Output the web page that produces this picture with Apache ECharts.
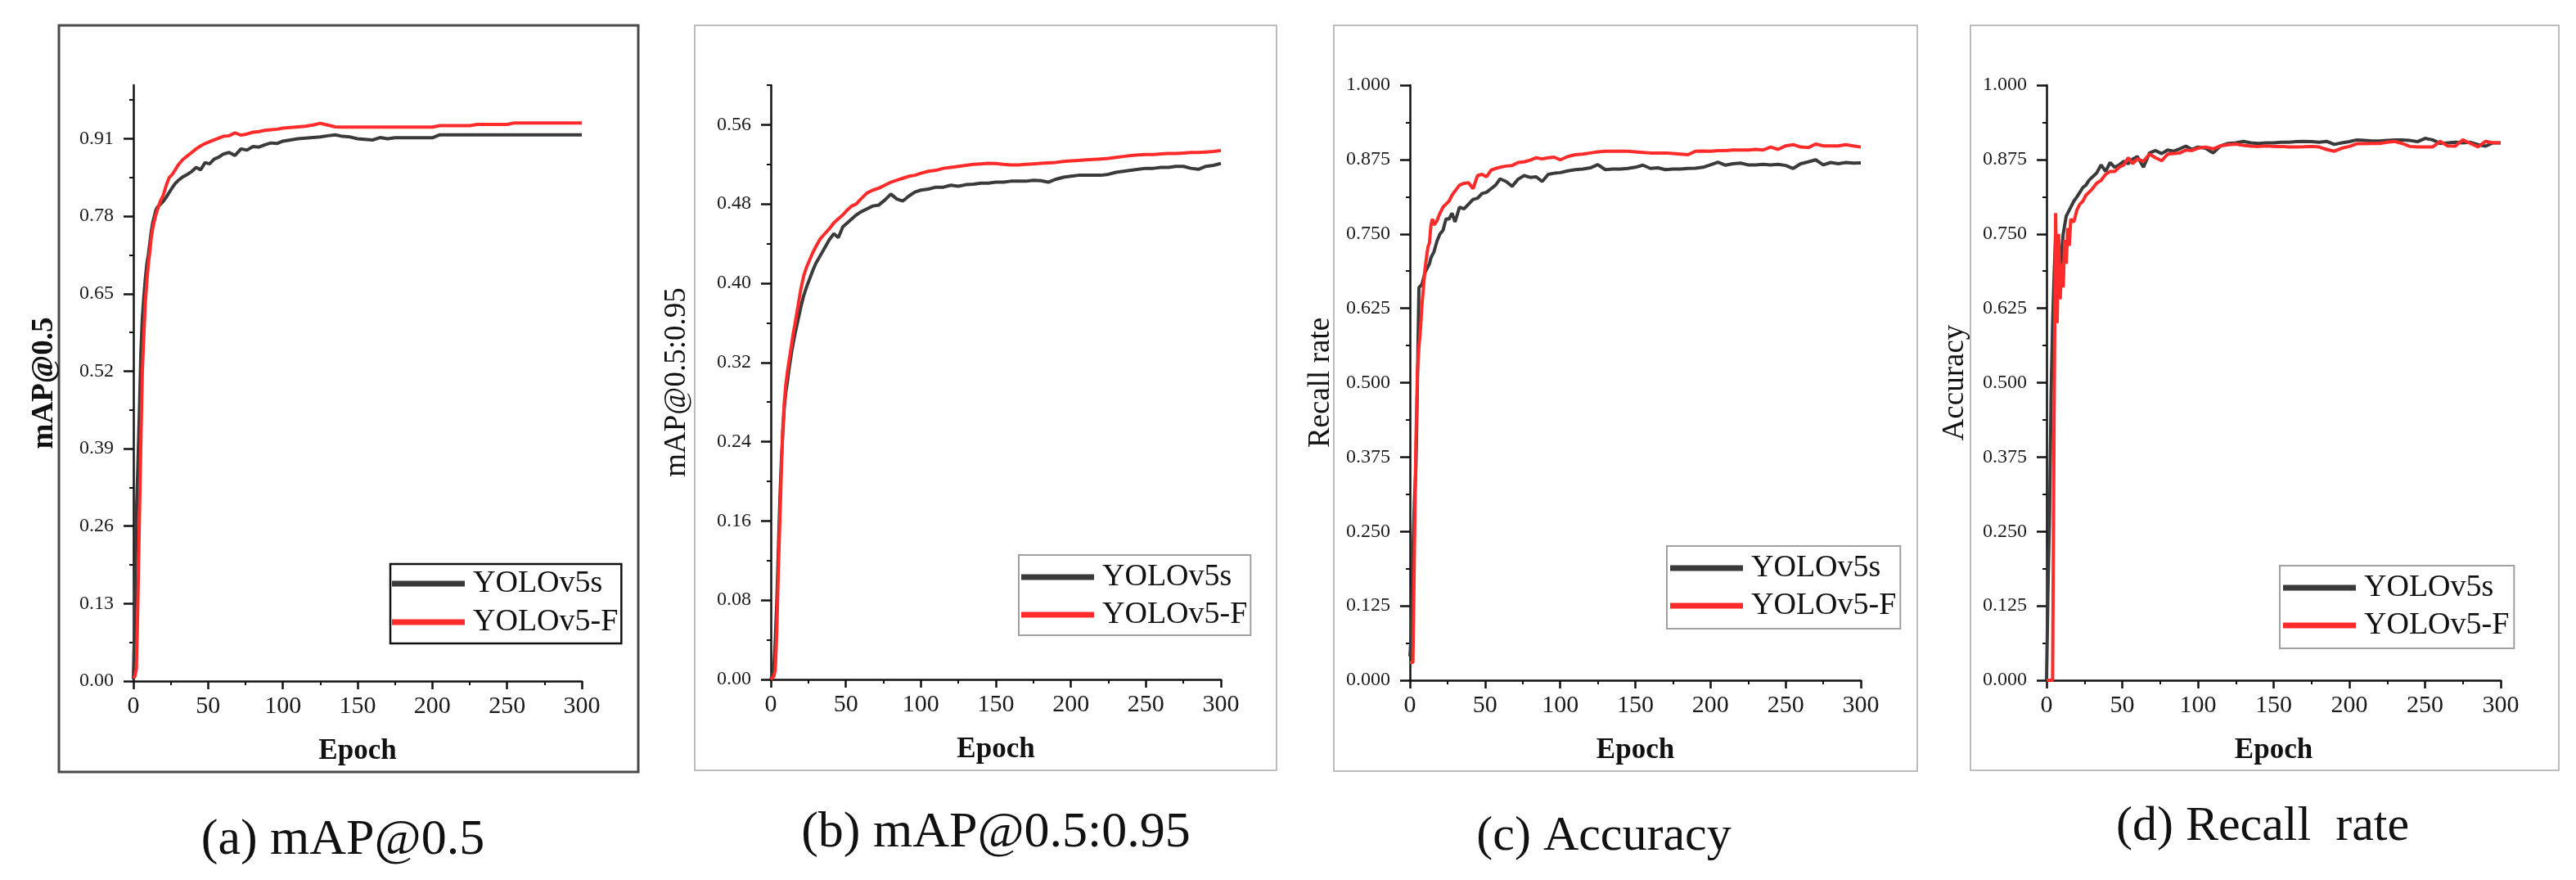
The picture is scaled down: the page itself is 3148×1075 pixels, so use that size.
<!DOCTYPE html>
<html>
<head>
<meta charset="utf-8">
<script src="https://cdn.jsdelivr.net/npm/echarts@6/dist/echarts.min.js"></script>
<style>
html,body{margin:0;padding:0;background:#fff;}
#chart{width:3148px;height:1075px;}
</style>
</head>
<body>
<div id="chart"></div>
<script>
// ---------------- data ----------------
const epochs = [0,1,2,3,4,5,6,7,8,9,10,11,12,13,14,15,16,18,20,22,24,26,28,30,33,36,39,42,45,48,51,54,57,60,64,68,72,76,80,84,88,92,96,100,105,110,115,120,125,130,135,140,145,150,155,160,165,170,175,180,185,190,195,200,205,210,215,220,225,230,235,240,245,250,255,260,265,270,275,280,285,290,295,300];

const seriesNames = ['YOLOv5s', 'YOLOv5-F'];

// (a) mAP@0.5
const mapA_v5s = [0.003,0.12,0.28,0.36,0.45,0.55,0.61,0.645,0.675,0.70,0.715,0.735,0.755,0.77,0.78,0.79,0.795,0.80,0.805,0.812,0.82,0.828,0.835,0.84,0.846,0.85,0.855,0.862,0.858,0.87,0.868,0.876,0.879,0.884,0.887,0.882,0.893,0.891,0.897,0.896,0.900,0.903,0.902,0.906,0.908,0.910,0.911,0.912,0.913,0.915,0.9166,0.914,0.913,0.910,0.909,0.908,0.912,0.910,0.9116,0.9116,0.9116,0.9116,0.9116,0.9116,0.9166,0.9166,0.9166,0.9166,0.9166,0.9166,0.9166,0.9166,0.9166,0.9166,0.9166,0.9166,0.9166,0.9166,0.9166,0.9166,0.9166,0.9166,0.9166,0.9166];
const mapA_v5F = [0.005,0.008,0.02,0.13,0.27,0.40,0.52,0.58,0.635,0.67,0.70,0.72,0.745,0.76,0.772,0.782,0.79,0.805,0.815,0.832,0.845,0.85,0.858,0.866,0.875,0.881,0.887,0.893,0.898,0.902,0.905,0.908,0.911,0.914,0.915,0.92,0.916,0.918,0.921,0.922,0.924,0.925,0.926,0.928,0.929,0.930,0.931,0.933,0.936,0.933,0.930,0.9296,0.9296,0.9296,0.9296,0.9296,0.9296,0.9296,0.9296,0.9296,0.9296,0.9296,0.9296,0.9296,0.932,0.932,0.932,0.932,0.932,0.934,0.934,0.934,0.934,0.934,0.9366,0.9366,0.9366,0.9366,0.9366,0.9366,0.9366,0.9366,0.9366,0.9366];

// (b) mAP@0.5:0.95
const mapB_v5s = [0.0,0.0,0.01,0.04,0.08,0.13,0.18,0.22,0.25,0.275,0.29,0.30,0.312,0.322,0.332,0.34,0.348,0.362,0.376,0.388,0.397,0.405,0.413,0.42,0.428,0.436,0.444,0.450,0.446,0.457,0.461,0.465,0.469,0.472,0.475,0.478,0.479,0.484,0.490,0.485,0.483,0.488,0.492,0.494,0.495,0.497,0.497,0.499,0.498,0.4995,0.500,0.501,0.501,0.502,0.502,0.503,0.503,0.503,0.504,0.5035,0.502,0.505,0.507,0.508,0.509,0.509,0.509,0.509,0.510,0.512,0.513,0.514,0.515,0.516,0.516,0.517,0.517,0.518,0.518,0.516,0.515,0.518,0.519,0.521];
const mapB_v5F = [0.0,0.0,0.003,0.01,0.05,0.11,0.16,0.21,0.255,0.28,0.298,0.31,0.32,0.33,0.34,0.35,0.358,0.376,0.394,0.408,0.417,0.424,0.431,0.437,0.445,0.450,0.455,0.461,0.465,0.469,0.474,0.478,0.480,0.485,0.491,0.494,0.496,0.499,0.502,0.504,0.506,0.508,0.509,0.511,0.513,0.514,0.516,0.517,0.518,0.519,0.52,0.5205,0.521,0.5208,0.520,0.5195,0.5195,0.520,0.5205,0.521,0.5215,0.522,0.523,0.5235,0.524,0.5245,0.525,0.5255,0.526,0.527,0.528,0.529,0.5295,0.530,0.530,0.5305,0.531,0.531,0.5315,0.532,0.532,0.5325,0.533,0.534];

// (c) Accuracy (axis: Recall rate)
const accC_v5s = [0.04,0.08,0.22,0.30,0.36,0.50,0.66,0.662,0.665,0.675,0.685,0.69,0.695,0.70,0.71,0.715,0.72,0.738,0.75,0.756,0.775,0.775,0.785,0.77,0.795,0.792,0.80,0.808,0.81,0.818,0.82,0.826,0.832,0.8425,0.838,0.83,0.842,0.848,0.845,0.846,0.838,0.85,0.852,0.853,0.856,0.858,0.859,0.861,0.8665,0.858,0.859,0.859,0.860,0.862,0.8655,0.860,0.861,0.858,0.859,0.859,0.860,0.8604,0.862,0.866,0.8705,0.8655,0.868,0.869,0.866,0.866,0.867,0.866,0.867,0.865,0.860,0.868,0.871,0.8745,0.866,0.870,0.868,0.870,0.869,0.8694];
const accC_v5F = [0.03,0.03,0.03,0.22,0.40,0.52,0.56,0.59,0.63,0.66,0.69,0.71,0.728,0.735,0.765,0.775,0.765,0.772,0.785,0.795,0.80,0.805,0.815,0.822,0.832,0.835,0.836,0.826,0.848,0.850,0.846,0.857,0.860,0.862,0.864,0.865,0.870,0.871,0.874,0.878,0.876,0.878,0.879,0.8745,0.880,0.883,0.884,0.886,0.888,0.889,0.889,0.889,0.889,0.888,0.887,0.886,0.886,0.886,0.885,0.884,0.883,0.889,0.8894,0.889,0.890,0.890,0.891,0.891,0.891,0.892,0.891,0.896,0.892,0.898,0.900,0.896,0.895,0.901,0.898,0.898,0.898,0.900,0.898,0.896];

// (d) Recall rate (axis: Accuracy)
const recD_v5s = [0.0,0.16,0.28,0.48,0.60,0.68,0.75,0.74,0.70,0.68,0.72,0.75,0.765,0.78,0.785,0.79,0.795,0.805,0.812,0.82,0.828,0.832,0.84,0.845,0.852,0.866,0.855,0.87,0.862,0.866,0.872,0.868,0.876,0.88,0.862,0.886,0.890,0.885,0.891,0.889,0.893,0.8975,0.892,0.896,0.894,0.886,0.898,0.902,0.903,0.9055,0.903,0.902,0.903,0.903,0.904,0.904,0.905,0.9055,0.905,0.904,0.9055,0.9004,0.903,0.905,0.908,0.907,0.906,0.906,0.907,0.908,0.908,0.907,0.905,0.9105,0.908,0.902,0.903,0.904,0.903,0.904,0.900,0.8975,0.903,0.903];
const recD_v5F = [0.0,0.0,0.0,0.0,0.0,0.45,0.785,0.60,0.75,0.64,0.70,0.66,0.74,0.70,0.76,0.73,0.775,0.77,0.79,0.80,0.805,0.815,0.82,0.825,0.835,0.84,0.85,0.855,0.855,0.862,0.866,0.878,0.868,0.876,0.872,0.884,0.878,0.873,0.884,0.885,0.886,0.891,0.890,0.894,0.896,0.893,0.898,0.900,0.901,0.899,0.8975,0.897,0.898,0.897,0.897,0.896,0.896,0.8964,0.897,0.896,0.892,0.889,0.894,0.897,0.9015,0.9015,0.902,0.902,0.904,0.9055,0.902,0.897,0.896,0.896,0.896,0.9055,0.898,0.8975,0.908,0.902,0.8964,0.9055,0.903,0.903];

// tick labels
const xTicks = [0, 50, 100, 150, 200, 250, 300];
const yTicksA = [0, 0.13, 0.26, 0.39, 0.52, 0.65, 0.78, 0.91];
const yTicksB = [0, 0.08, 0.16, 0.24, 0.32, 0.40, 0.48, 0.56];
const yTicksC = [0, 0.125, 0.25, 0.375, 0.5, 0.625, 0.75, 0.875, 1.0];
const yTicksD = [0, 0.125, 0.25, 0.375, 0.5, 0.625, 0.75, 0.875, 1.0];

const yNames = ['mAP@0.5', 'mAP@0.5:0.95', 'Recall rate', 'Accuracy'];
const captions = ['(a) mAP@0.5', '(b) mAP@0.5:0.95', '(c) Accuracy', '(d) Recall  rate'];

// ---------------- layout / style ----------------
const SERIF = "'Liberation Serif','Times New Roman',serif";
const BLACK = '#3a3a3a', RED = '#ff2b2b';

const panels = [
  { grid:{left:163, top:104, width:548, height:728}, yMax:1.0, ticks:yTicksA, step:0.13, dec:2,
    s:mapA_v5s, f:mapA_v5F, nameGap:90, nameBold:true,
    box:{x:72,y:31,w:708,h:912,c:'#4a4a4a',lw:3},
    legend:{left:477, top:689, bc:'#111', bw:2.5, pad:[5,4,7,2], gap:9},
    cap:{x:419, y:1027, size:62} },
  { grid:{left:942, top:104, width:550, height:726}, yMax:0.6, ticks:yTicksB, step:0.08, dec:2,
    s:mapB_v5s, f:mapB_v5F, nameGap:96, nameBold:false,
    box:{x:849,y:31,w:711,h:910,c:'#bdbdbd',lw:2},
    legend:{left:1245, top:678, bc:'#a0a0a0', bw:2, pad:[8,4,6,3], gap:8},
    cap:{x:1217, y:1018, size:62} },
  { grid:{left:1723, top:104, width:551, height:727}, yMax:1.0, ticks:yTicksC, step:0.125, dec:3,
    s:accC_v5s, f:accC_v5F, nameGap:90, nameBold:false,
    box:{x:1630,y:31,w:713,h:911,c:'#bdbdbd',lw:2},
    legend:{left:2037, top:667, bc:'#a0a0a0', bw:2, pad:[8,5,9,4], gap:8},
    cap:{x:1960, y:1022, size:60} },
  { grid:{left:2501, top:104, width:555, height:727}, yMax:1.0, ticks:yTicksD, step:0.125, dec:3,
    s:recD_v5s, f:recD_v5F, nameGap:93, nameBold:false,
    box:{x:2408,y:31,w:719,h:910,c:'#bdbdbd',lw:2},
    legend:{left:2786, top:691, bc:'#a0a0a0', bw:2, pad:[8,6,9,4], gap:8},
    cap:{x:2765, y:1010, size:60} }
];

const grid = [], xAxis = [], yAxis = [], series = [], legend = [], graphic = [];

panels.forEach((p, i) => {
  grid.push(Object.assign({}, p.grid));
  xAxis.push({
    type:'value', gridIndex:i, min:0, max:300, interval:50,
    axisLine:{show:true, onZero:false, lineStyle:{color:'#111', width:2.5}},
    axisTick:{show:true, length:10, lineStyle:{color:'#111', width:2.5}},
    minorTick:{show:true, splitNumber:2, length:5, lineStyle:{color:'#111', width:2}},
    splitLine:{show:false},
    axisLabel:{customValues:xTicks, fontFamily:SERIF, fontSize:30, color:'#1a1a1a', margin:16},
    name:'Epoch', nameLocation:'middle', nameGap:68,
    nameTextStyle:{fontFamily:SERIF, fontSize:35, fontWeight:'bold', color:'#111'}
  });
  const minor = p.ticks.map(t => +(t + p.step/2).toFixed(4)).filter(t => t <= p.yMax + 1e-9);
  yAxis.push({
    type:'value', gridIndex:i, position:'left', min:0, max:p.yMax,
    axisLine:{show:true, onZero:false, lineStyle:{color:'#111', width:2.5}},
    axisTick:{show:true, customValues:p.ticks, length:12, lineStyle:{color:'#111', width:2.5}},
    splitLine:{show:false},
    axisLabel:{customValues:p.ticks, formatter:v => (+v).toFixed(p.dec), fontFamily:SERIF, fontSize:24, color:'#1a1a1a', margin:24},
    name:yNames[i], nameLocation:'middle', nameGap:p.nameGap, nameRotate:90,
    nameTextStyle:{fontFamily:SERIF, fontSize:37, fontWeight:p.nameBold?'bold':'normal', color:'#111'}
  });
  yAxis.push({
    type:'value', gridIndex:i, position:'left', offset:0, min:0, max:p.yMax,
    axisLine:{show:false},
    axisTick:{show:true, customValues:minor, length:5, lineStyle:{color:'#111', width:2}},
    axisLabel:{show:false}, splitLine:{show:false}
  });
  series.push({
    name:seriesNames[0], type:'line', xAxisIndex:i, yAxisIndex:2*i,
    data:epochs.map((e, k) => [e, p.s[k]]), showSymbol:false, symbol:'none',
    lineStyle:{color:BLACK, width:4}, itemStyle:{color:BLACK}, z:2
  });
  series.push({
    name:seriesNames[1], type:'line', xAxisIndex:i, yAxisIndex:2*i,
    data:epochs.map((e, k) => [e, p.f[k]]), showSymbol:false, symbol:'none',
    lineStyle:{color:RED, width:4}, itemStyle:{color:RED}, z:3
  });
  legend.push({
    data:seriesNames, orient:'vertical', left:p.legend.left, top:p.legend.top,
    icon:'rect', itemWidth:89, itemHeight:7, itemGap:p.legend.gap,
    padding:p.legend.pad, borderColor:p.legend.bc, borderWidth:p.legend.bw,
    backgroundColor:'#fff',
    textStyle:{fontFamily:SERIF, fontSize:38, color:'#111', padding:[0,0,0,5]}
  });
  graphic.push({
    type:'rect', shape:{x:p.box.x, y:p.box.y, width:p.box.w, height:p.box.h},
    style:{fill:'none', stroke:p.box.c, lineWidth:p.box.lw}, silent:true, z:-1
  });
  graphic.push({
    type:'text', x:p.cap.x, y:p.cap.y, silent:true,
    style:{text:captions[i], fontFamily:SERIF, fontSize:p.cap.size, fill:'#111', textAlign:'center', textVerticalAlign:'middle'}
  });
});

const chart = echarts.init(document.getElementById('chart'), null, {renderer:'canvas'});
chart.setOption({
  animation:false,
  backgroundColor:'#fff',
  grid, xAxis, yAxis, series, legend, graphic
});
</script>
</body>
</html>
